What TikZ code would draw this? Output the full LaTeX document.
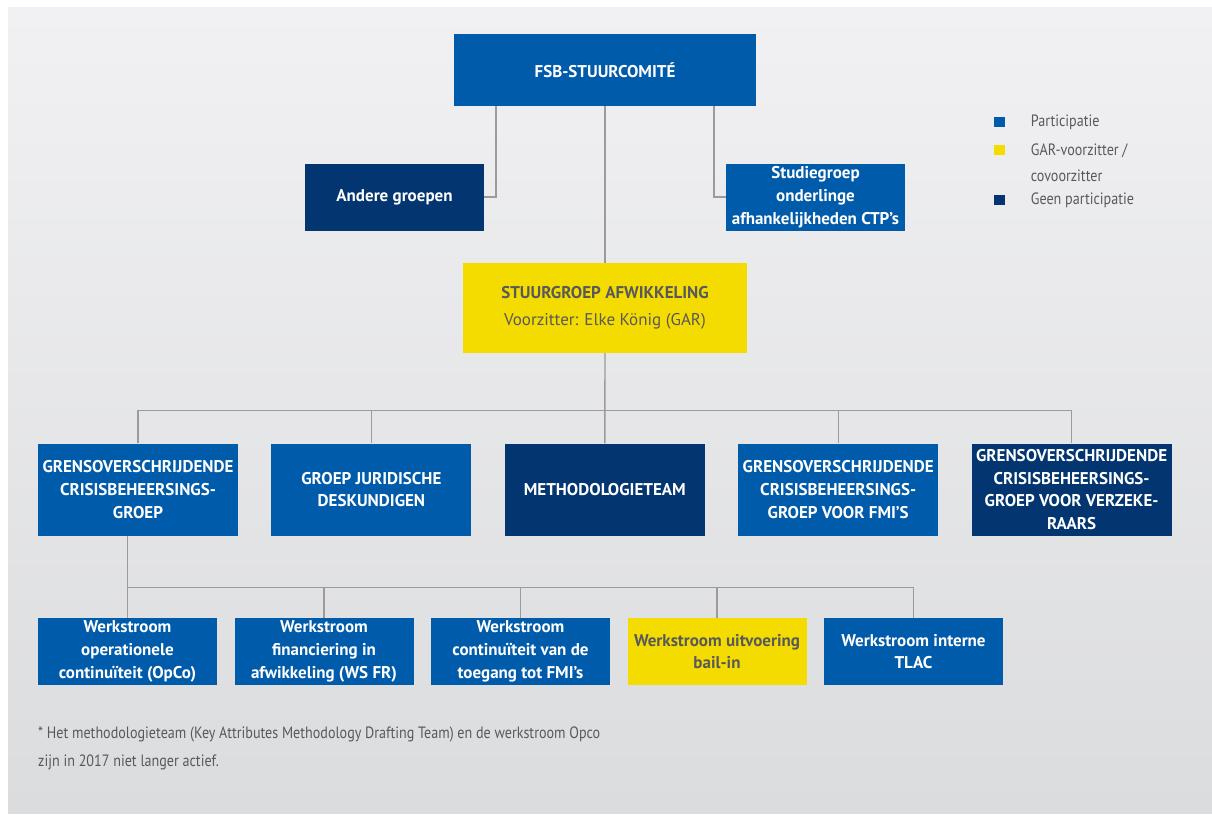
\documentclass[tikz,border=0pt]{standalone}
\usepackage{fontspec}
\setmainfont{PT Sans}
\newfontfamily\smal[FakeStretch=0.86]{PT Sans}
\usepackage{tikz}
\usetikzlibrary{positioning}
\definecolor{blauw}{RGB}{0,91,170}
\definecolor{navy}{RGB}{3,54,112}
\definecolor{geel}{RGB}{245,220,0}
\definecolor{tekstgrijs}{RGB}{88,89,91}
\definecolor{lijngrijs}{RGB}{155,155,155}
\definecolor{bgboven}{RGB}{241,241,243}
\definecolor{bgonder}{RGB}{219,220,222}
\tikzstyle{vak} = [rectangle, inner sep=0pt, align=center, text=white, font=\bfseries\fontsize{17}{22.7}\selectfont]
\tikzstyle{partic} = [vak, fill=blauw]
\tikzstyle{geenpart} = [vak, fill=navy]
\tikzstyle{voorz} = [vak, fill=geel, text=tekstgrijs]
\tikzstyle{groot} = [minimum width=200pt, minimum height=92pt]
\tikzstyle{klein} = [minimum width=179pt, minimum height=67pt]
\tikzstyle{lijn} = [draw=lijngrijs, line width=1.4pt]
\tikzstyle{legvak} = [rectangle, minimum width=11pt, minimum height=10pt, inner sep=0pt]
\tikzstyle{legtekst} = [inner sep=0pt, align=left, text=tekstgrijs, font=\smal\fontsize{16.4}{26}\selectfont]
\tikzstyle{noot} = [inner sep=0pt, align=left, text=tekstgrijs, font=\smal\fontsize{16.4}{28}\selectfont]

\begin{document}
\begin{tikzpicture}[x=1pt, y=1pt, node distance=233.4pt]

		\useasboundingbox (0,0) rectangle (1212,-814);
		\shade [top color=bgboven, bottom color=bgonder] (8,-7) rectangle (1212,-813);

		\node (fsb) [partic, minimum width=302pt, minimum height=72pt] at (605,-70) {FSB-STUURCOMITÉ};
		\node (andere) [geenpart, klein] at (394.5,-197) {Andere groepen};
		\node (studie) [partic, klein] at (815.5,-197) {Studiegroep\\onderlinge\\afhankelijkheden CTP's};
		\node (stuur) [voorz, minimum width=284pt, minimum height=90pt] at (605,-308) {STUURGROEP AFWIKKELING\\[4pt]{\mdseries Voorzitter: Elke König (GAR)}};

		\node (gcg) [partic, groot] at (138,-489.5) {GRENSOVERSCHRIJDENDE\\CRISISBEHEERSINGS-\\GROEP};
		\node (juri) [partic, groot, right of=gcg] {GROEP JURIDISCHE\\DESKUNDIGEN};
		\node (meth) [geenpart, groot, right of=juri] {METHODOLOGIETEAM};
		\node (fmi) [partic, groot, right of=meth] {GRENSOVERSCHRIJDENDE\\CRISISBEHEERSINGS-\\GROEP VOOR FMI'S};
		\node (verz) [geenpart, groot, right of=fmi] {GRENSOVERSCHRIJDENDE\\CRISISBEHEERSINGS-\\GROEP VOOR VERZEKE-\\RAARS};

		\begin{scope}[node distance=196.5pt]
		\node (ws1) [partic, klein] at (127.5,-651.5) {Werkstroom\\operationele\\continuïteit (OpCo)};
		\node (ws2) [partic, klein, right of=ws1] {Werkstroom\\financiering in\\afwikkeling (WS FR)};
		\node (ws3) [partic, klein, right of=ws2] {Werkstroom\\continuïteit van de\\toegang tot FMI's};
		\node (ws4) [voorz, klein, right of=ws3] {Werkstroom uitvoering\\bail-in};
		\node (ws5) [partic, klein, right of=ws4] {Werkstroom interne\\TLAC};
		\end{scope}

		\node (lgpart) [legvak, fill=blauw] at (999,-122) {};
		\node (lggar) [legvak, fill=geel] at (999,-150) {};
		\node (lggeen) [legvak, fill=navy] at (999,-200) {};
		\node (lgparttekst) [legtekst, right=26pt of lgpart] {Participatie};
		\node (lggartekst) [legtekst, right=26pt of lggar, yshift=-13pt] {GAR-voorzitter /\\covoorzitter};
		\node (lggeentekst) [legtekst, right=26pt of lggeen] {Geen participatie};

		\node (noot) [noot, anchor=west] at (38,-748) {* Het methodologieteam (Key Attributes Methodology Drafting Team) en de werkstroom Opco\\zijn in 2017 niet langer actief.};

		\path (stuur.south) ++(0,-57) coordinate (splitb);
		\path (gcg.south -| ws1.north) ++(0,-51.5) coordinate (splito);

		\draw [lijn] (fsb.south) ++(-109,0) |- (andere.east);
		\draw [lijn] (fsb.south) ++(109,0) |- (studie.west);
		\draw [lijn] (fsb.south) -- (stuur.north);

		\draw [lijn] (stuur.south) -- (meth.north);
		\draw [lijn] (gcg.north) |- (splitb);
		\draw [lijn] (juri.north) |- (splitb);
		\draw [lijn] (fmi.north) |- (splitb);
		\draw [lijn] (verz.north) |- (splitb);

		\draw [lijn] (gcg.south -| ws1.north) -- (ws1.north);
		\draw [lijn] (ws2.north) |- (splito);
		\draw [lijn] (ws3.north) |- (splito);
		\draw [lijn] (ws4.north) |- (splito);
		\draw [lijn] (ws5.north) |- (splito);

\end{tikzpicture}
\end{document}
